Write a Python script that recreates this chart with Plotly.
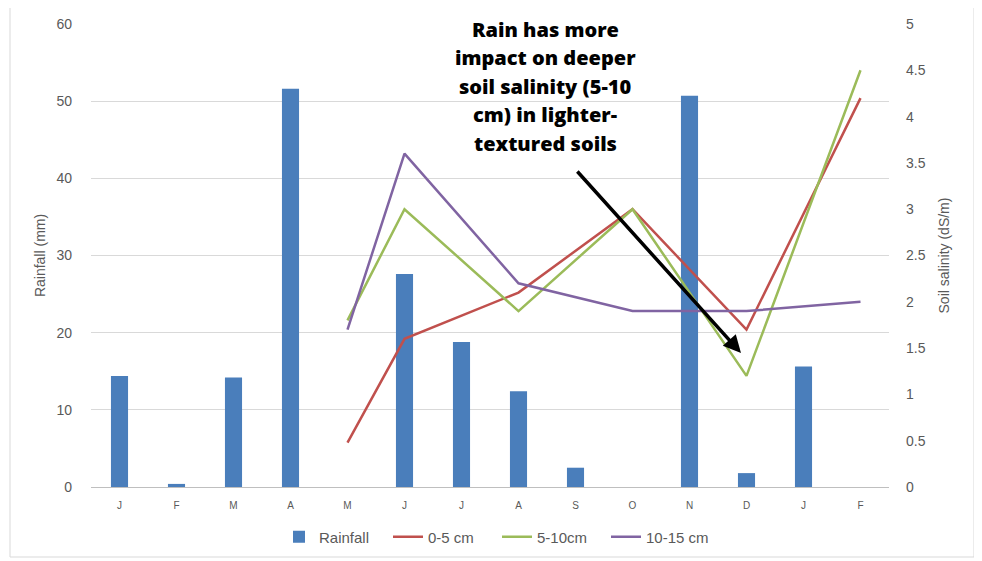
import plotly.graph_objects as go

months = ["J", "F", "M", "A", "M", "J", "J", "A", "S", "O", "N", "D", "J", "F"]
rainfall = [14.4, 0.4, 14.2, 51.6, 0, 27.6, 18.8, 12.4, 2.5, 0, 50.7, 1.8, 15.6, 0]
sal_0_5 = [None, None, None, None, 0.48, 1.6, None, 2.1, None, 3.0, None, 1.7, None, 4.2]
sal_5_10 = [None, None, None, None, 1.8, 3.0, None, 1.9, None, 3.0, None, 1.2, None, 4.5]
sal_10_15 = [None, None, None, None, 1.7, 3.6, None, 2.2, None, 1.9, None, 1.9, None, 2.0]
left_ticks = [0, 10, 20, 30, 40, 50, 60]
right_ticks = [0, 0.5, 1, 1.5, 2, 2.5, 3, 3.5, 4, 4.5, 5]
right_labels = ["0", "0.5", "1", "1.5", "2", "2.5", "3", "3.5", "4", "4.5", "5"]
note_lines = ["Rain has more", "impact on deeper", "soil salinity (5-10", "cm) in lighter-", "textured soils"]

x = list(range(len(months)))
W, H = 982, 561
OFF = 8  # page body margin offset
# plot area in screen pixels
PX0, PX1, PY0, PY1 = 91, 889, 24, 487

fig = go.Figure()
fig.add_trace(go.Bar(x=x, y=rainfall, name="Rainfall", marker=dict(color="#4A7EBB", line=dict(width=0)),
                     yaxis="y"))
fig.add_trace(go.Scatter(x=x, y=sal_0_5, name="0-5 cm", mode="lines", connectgaps=True,
                         line=dict(color="#C0504D", width=2.5), yaxis="y2"))
fig.add_trace(go.Scatter(x=x, y=sal_5_10, name="5-10cm", mode="lines", connectgaps=True,
                         line=dict(color="#9BBB59", width=2.5), yaxis="y2"))
fig.add_trace(go.Scatter(x=x, y=sal_10_15, name="10-15 cm", mode="lines", connectgaps=True,
                         line=dict(color="#8064A2", width=2.5), yaxis="y2"))

pw = PX1 - PX0
ph = PY1 - PY0
fx = lambda px: (px - PX0) / pw
fy = lambda py: (PY1 - py) / ph

fig.update_layout(
    width=W, height=H,
    margin=dict(l=PX0 - OFF, r=W + OFF - PX1, t=PY0 - OFF, b=H + OFF - PY1, autoexpand=False),
    paper_bgcolor="white", plot_bgcolor="white",
    font=dict(family="Liberation Sans, Arial", color="#595959"),
    bargap=0.7,
    showlegend=True,
    legend=dict(orientation="h", x=fx(497), xanchor="center", y=fy(537), yanchor="middle",
                font=dict(size=15, color="#595959"), traceorder="normal",
                entrywidth=64, entrywidthmode="pixels"),
    xaxis=dict(tickmode="array", tickvals=x, ticktext=months, range=[-0.5, 13.5],
               showgrid=False, showline=False, zeroline=False, ticks="",
               tickfont=dict(size=10, color="#595959"), ticklabelstandoff=11, automargin=False),
    yaxis=dict(range=[0, 60], tickvals=left_ticks, showgrid=True, gridcolor="#D9D9D9", gridwidth=1,
               zeroline=True, zerolinecolor="#BFBFBF", zerolinewidth=1, showline=False,
               tickfont=dict(size=14, color="#595959"), ticklabelstandoff=18, automargin=False,
               title=dict(text="Rainfall (mm)", font=dict(size=14, color="#595959"), standoff=7)),
    yaxis2=dict(range=[0, 5], tickvals=right_ticks, ticktext=right_labels, overlaying="y", side="right",
                showgrid=False, zeroline=False, showline=False, automargin=False,
                tickfont=dict(size=14, color="#595959"), ticklabelstandoff=16,
                title=dict(text="Soil salinity (dS/m)", font=dict(size=14, color="#595959"), standoff=14)),
)

fig.add_shape(type="rect", xref="paper", yref="paper",
              x0=fx(10), x1=fx(974), y0=fy(557), y1=fy(6),
              line=dict(color="#D9D9D9", width=1), fillcolor="rgba(0,0,0,0)", layer="below")

for i, line_text in enumerate(note_lines):
    fig.add_annotation(xref="paper", yref="paper", x=fx(545), y=fy(29.5 + 28.4 * i),
                       xanchor="center", yanchor="middle", text=line_text, showarrow=False,
                       font=dict(family="Open Sans", size=20, color="black", weight=800))
fig.add_annotation(xref="paper", yref="paper", x=fx(741), y=fy(353), ax=576 - 741, ay=170 - 353,
                   text="", showarrow=True,
                   arrowhead=2, arrowsize=1, arrowwidth=3.5, arrowcolor="black")

fig.write_html("out.html")
